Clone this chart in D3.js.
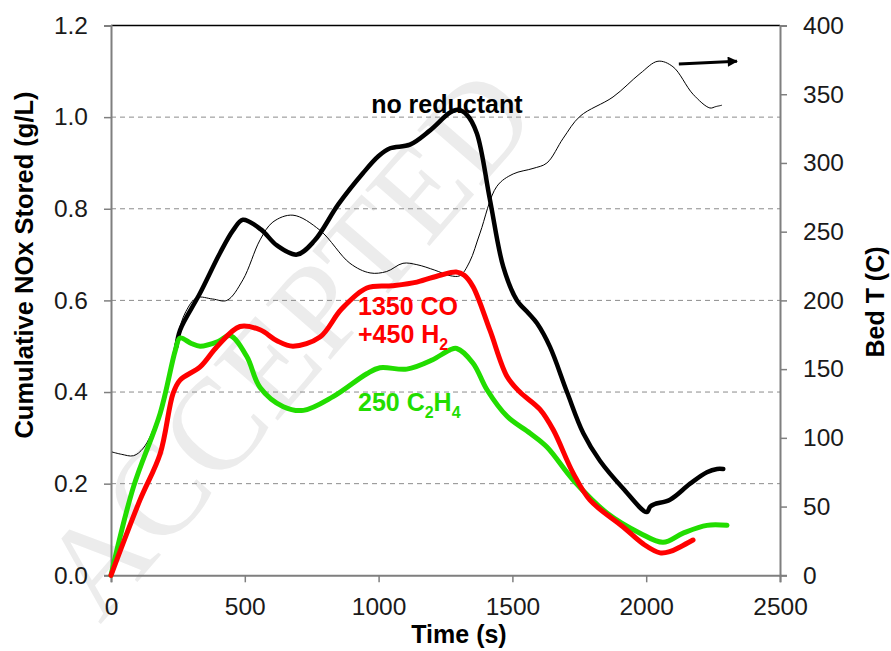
<!DOCTYPE html>
<html>
<head>
<meta charset="utf-8">
<script src="https://cdn.jsdelivr.net/npm/d3@7"></script>
<style>
  body { margin: 0; background: #fff; }
  svg text { font-family: Arial, "Liberation Sans", sans-serif; }
</style>
</head>
<body>
<svg id="chart" width="891" height="651"></svg>
<script>
// cumulative NOx stored, no reductant [time s, g/L] (under the green curve before ~245 s)
const noReductant = [
  [245, 0.5], [258, 0.535], [333, 0.616], [407, 0.703],
  [456, 0.753], [493, 0.776], [560, 0.755], [620, 0.72], [695, 0.70], [760, 0.73], [850, 0.81],
  [942, 0.878], [1000, 0.915], [1043, 0.932], [1117, 0.94], [1190, 0.97], [1267, 1.01],
  [1297, 1.016], [1330, 1.005], [1367, 0.965], [1416, 0.82], [1466, 0.673], [1516, 0.601],
  [1560, 0.572], [1592, 0.55], [1640, 0.499], [1704, 0.40], [1765, 0.31], [1827, 0.25],
  [1913, 0.19], [2002, 0.138], [2015, 0.15], [2030, 0.155], [2089, 0.165], [2164, 0.20],
  [2227, 0.225], [2265, 0.232], [2288, 0.232]
];
// 1350 CO + 450 H2
const coH2 = [
  [0, 0], [108, 0.164], [184, 0.266], [232, 0.397], [258, 0.426], [333, 0.455], [396, 0.499],
  [482, 0.543], [557, 0.536], [620, 0.512], [680, 0.50], [781, 0.52], [860, 0.58], [956, 0.627],
  [1050, 0.632], [1143, 0.64], [1230, 0.655], [1290, 0.662], [1320, 0.655], [1353, 0.63],
  [1416, 0.535], [1480, 0.434], [1528, 0.40], [1603, 0.362], [1653, 0.317], [1727, 0.223],
  [1790, 0.164], [1913, 0.106], [1990, 0.068], [2052, 0.049], [2090, 0.052], [2127, 0.062], [2175, 0.077]
];
// 250 C2H4
const c2h4 = [
  [0, 0], [84, 0.193], [184, 0.354], [240, 0.49], [258, 0.518], [300, 0.506], [333, 0.50],
  [400, 0.51], [445, 0.523], [507, 0.478], [557, 0.41], [644, 0.368], [719, 0.36], [830, 0.39],
  [956, 0.44], [1005, 0.453], [1105, 0.45], [1200, 0.47], [1267, 0.492], [1292, 0.495],
  [1353, 0.463], [1405, 0.405], [1480, 0.347], [1566, 0.31], [1629, 0.28], [1727, 0.208],
  [1853, 0.136], [1977, 0.092], [2063, 0.072], [2138, 0.092], [2227, 0.109], [2302, 0.109]
];
// bed temperature [time s, C]
const bedT = [
  [4, 89.7], [40, 88], [84, 87], [121, 92.6], [171, 113], [220, 151], [246, 173], [280, 192],
  [321, 202], [380, 201], [433, 200], [493, 215], [557, 244], [605, 257], [680, 262], [781, 251],
  [893, 227], [968, 220], [1030, 221], [1091, 227], [1143, 226], [1210, 222], [1267, 218],
  [1304, 218], [1340, 228], [1379, 249], [1442, 283], [1503, 292], [1577, 296], [1629, 300],
  [1690, 318], [1753, 334], [1876, 348], [1977, 365], [2044, 374], [2100, 370], [2175, 350],
  [2238, 340], [2260, 341], [2283, 342]
];

const leftTicks = [0, 0.2, 0.4, 0.6, 0.8, 1.0, 1.2];
const gridValues = [0.2, 0.4, 0.6, 0.8, 1.0];
const rightTicks = [0, 50, 100, 150, 200, 250, 300, 350, 400];
const timeTicks = [0, 500, 1000, 1500, 2000, 2500];
const arrowPts = [[2122, 372], [2339, 374]];

const svg = d3.select("#chart");
const margin = { top: 25.5, right: 111, bottom: 75.7, left: 111 };
const width = 891 - margin.left - margin.right;
const height = 651 - margin.top - margin.bottom;

// watermark
svg.append("text")
  .attr("transform", "translate(100,625) rotate(-49)")
  .attr("font-size", 130)
  .attr("fill", "#ececec")
  .style("font-family", "'Liberation Serif', 'DejaVu Serif', serif")
  .text("ACCEPTED");

const g = svg.append("g").attr("transform", `translate(${margin.left},${margin.top})`);

const x = d3.scaleLinear().domain([0, 2500]).range([0, width]);
const y = d3.scaleLinear().domain([0, 1.2]).range([height, 0]);
const yT = d3.scaleLinear().domain([0, 400]).range([height, 0]);

// gridlines
g.selectAll(".grid").data(gridValues).join("line")
  .attr("x1", 0).attr("x2", width)
  .attr("y1", d => y(d)).attr("y2", d => y(d))
  .attr("stroke", "#8c8c8c").attr("stroke-width", 1).attr("stroke-dasharray", "5,4");

// top border
g.append("line").attr("x1", 0).attr("x2", width).attr("y1", 0).attr("y2", 0)
  .attr("stroke", "#000").attr("stroke-width", 1.5);

function styleAxis(sel) {
  sel.select(".domain").attr("stroke", "#7f7f7f").attr("stroke-width", 2);
  sel.selectAll(".tick line").attr("stroke", "#7f7f7f").attr("stroke-width", 1.5);
  sel.selectAll(".tick text").attr("font-size", 24.5).attr("fill", "#1a1a1a")
    .style("font-family", "Arial, 'Liberation Sans', sans-serif");
}

g.append("g").call(d3.axisLeft(y).tickValues(leftTicks).tickFormat(d3.format(".1f")).tickSizeOuter(0).tickSize(7).tickPadding(16))
  .call(styleAxis);
g.append("g").attr("transform", `translate(${width},0)`)
  .call(d3.axisRight(yT).tickValues(rightTicks).tickSizeOuter(0).tickSize(7).tickPadding(16))
  .call(styleAxis);
g.append("g").attr("transform", `translate(0,${height})`)
  .call(d3.axisBottom(x).tickValues(timeTicks).tickFormat(d3.format("d")).tickSizeOuter(0).tickSize(7).tickPadding(15))
  .call(styleAxis);

const line = d3.line().x(d => x(d[0])).y(d => y(d[1])).curve(d3.curveCatmullRom.alpha(0.5));
const lineT = d3.line().x(d => x(d[0])).y(d => yT(d[1])).curve(d3.curveCatmullRom.alpha(0.5));

g.append("path").datum(bedT).attr("d", lineT)
  .attr("fill", "none").attr("stroke", "#000").attr("stroke-width", 1);
g.append("path").datum(noReductant).attr("d", line)
  .attr("fill", "none").attr("stroke", "#000").attr("stroke-width", 4.5).attr("stroke-linecap", "round");
g.append("path").datum(c2h4).attr("d", line)
  .attr("fill", "none").attr("stroke", "#22dd00").attr("stroke-width", 5).attr("stroke-linecap", "round");
g.append("path").datum(coH2).attr("d", line)
  .attr("fill", "none").attr("stroke", "#ff0000").attr("stroke-width", 5).attr("stroke-linecap", "round");

// arrow pointing to the right axis
svg.append("defs").append("marker")
  .attr("id", "arrowhead").attr("viewBox", "0 0 10 10").attr("refX", 9).attr("refY", 5)
  .attr("markerWidth", 4).attr("markerHeight", 3.4).attr("orient", "auto")
  .append("path").attr("d", "M0,0 L10,5 L0,10 z").attr("fill", "#000");
g.append("line")
  .attr("x1", x(arrowPts[0][0])).attr("y1", yT(arrowPts[0][1]))
  .attr("x2", x(arrowPts[1][0])).attr("y2", yT(arrowPts[1][1]))
  .attr("stroke", "#000").attr("stroke-width", 3).attr("marker-end", "url(#arrowhead)");

// series labels
g.append("text").attr("x", x(1255)).attr("y", y(1.0)).attr("dy", -4).attr("text-anchor", "middle")
  .attr("font-size", 25).attr("font-weight", "bold").attr("fill", "#000").text("no reductant");

const red = g.append("g").attr("fill", "#ff0000").attr("font-size", 25).attr("font-weight", "bold");
red.append("text").attr("x", x(923)).attr("y", y(0.568)).text("1350 CO");
const h2 = red.append("text").attr("x", x(923)).attr("y", y(0.507));
h2.append("tspan").text("+450 H");
h2.append("tspan").attr("font-size", 16).attr("dy", 7).text("2");

const grn = g.append("text").attr("x", x(923)).attr("y", y(0.358))
  .attr("fill", "#22dd00").attr("font-size", 25).attr("font-weight", "bold");
grn.append("tspan").text("250 C");
grn.append("tspan").attr("font-size", 16).attr("dy", 7).text("2");
grn.append("tspan").attr("dy", -7).text("H");
grn.append("tspan").attr("font-size", 16).attr("dy", 7).text("4");

// axis titles
svg.append("text").attr("transform", "translate(33,265) rotate(-90)")
  .attr("text-anchor", "middle").attr("font-size", 25.5).attr("font-weight", "bold")
  .text("Cumulative NOx Stored (g/L)");
svg.append("text").attr("transform", "translate(884,302) rotate(-90)")
  .attr("text-anchor", "middle").attr("font-size", 25).attr("font-weight", "bold")
  .text("Bed T (C)");
svg.append("text").attr("x", 459).attr("y", 643)
  .attr("text-anchor", "middle").attr("font-size", 25).attr("font-weight", "bold")
  .text("Time (s)");
</script>
</body>
</html>
